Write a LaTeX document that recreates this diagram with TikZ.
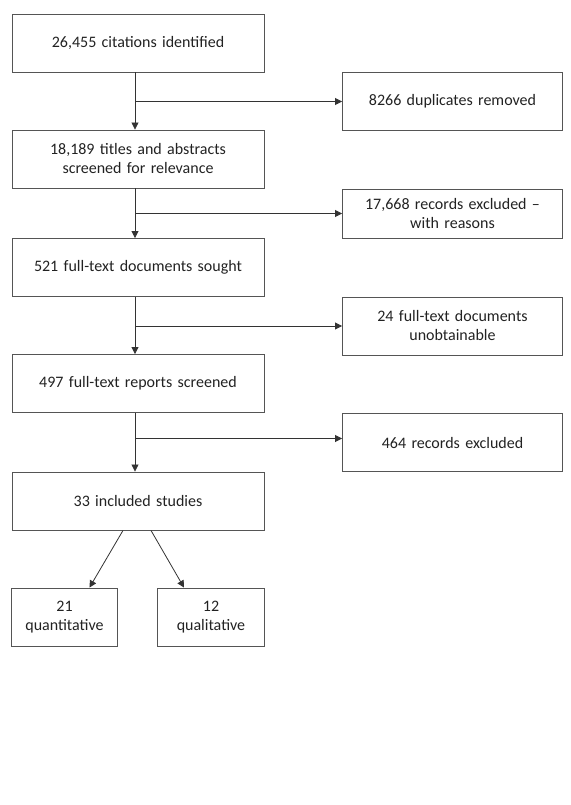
\documentclass[tikz,border=0pt]{standalone}
\usepackage{fontspec}
\setmainfont{Carlito}
\usepackage{tikz}
\usetikzlibrary{arrows.meta}
\usetikzlibrary{positioning}
\definecolor{boxline}{HTML}{555555}
\definecolor{linkline}{HTML}{333333}
\definecolor{boxtext}{HTML}{222222}
\tikzstyle{stage} = [rectangle, minimum width=252pt, minimum height=58pt, text centered, text width=240pt, draw=boxline, line width=0.9pt, text=boxtext, font=\fontsize{16}{19}\selectfont]
\tikzstyle{side} = [stage, minimum width=220pt, text width=210pt]
\tikzstyle{split} = [stage, minimum width=106pt, text width=100pt]
\tikzstyle{link} = [draw=linkline, line width=0.8pt, -{Triangle[length=7pt,width=7pt]}]

\begin{document}
\begin{tikzpicture}[x=1pt,y=-1pt]
 \useasboundingbox (0,0) rectangle (570,805);

 % main stages
 \node (cit) [stage] at (138,43) {26,455 citations identified};
 \node (tia) [stage] at (138,159) {18,189 titles and abstracts\\screened for relevance};
 \node (fts) [stage] at (138,267.5) {521 full-text documents sought};
 \node (ftr) [stage] at (138,383.5) {497 full-text reports screened};
 \node (inc) [stage] at (138,501) {33 included studies};

 % removed at each stage
 \node (dup) [side] at (452.5,101.5) {8266 duplicates removed};
 \node (rex) [side, minimum height=49pt] at (452.5,213.5) {17,668 records excluded --\\with reasons};
 \node (una) [side] at (452.5,326) {24 full-text documents\\unobtainable};
 \node (fex) [side] at (452.5,442.5) {464 records excluded};
 \coordinate (fexin) at ([yshift=4pt]fex.west);

 % split of included studies
 \node (qnt) [split] at (64.5,617) {21\\quantitative};
 \node (qlt) [split] at (211,617) {12\\qualitative};

 \draw [link] ([xshift=-3pt]cit.south) -- ([xshift=-3pt]tia.north);
 \draw [link] ([xshift=-3pt]tia.south) -- ([xshift=-3pt]fts.north);
 \draw [link] ([xshift=-3pt]fts.south) -- ([xshift=-3pt]ftr.north);
 \draw [link] ([xshift=-3pt]ftr.south) -- ([xshift=-3pt]inc.north);

 \draw [link] ([xshift=-3pt]cit.south |- dup.west) -- (dup.west);
 \draw [link] ([xshift=-3pt]tia.south |- rex.west) -- (rex.west);
 \draw [link] ([xshift=-3pt]fts.south |- una.west) -- (una.west);
 \draw [link] ([xshift=-3pt]ftr.south |- fexin) -- (fexin);

 \draw [link] ([xshift=-15pt]inc.south) -- ([xshift=25pt]qnt.north);
 \draw [link] ([xshift=13pt]inc.south) -- ([xshift=-27pt]qlt.north);
\end{tikzpicture}
\end{document}
